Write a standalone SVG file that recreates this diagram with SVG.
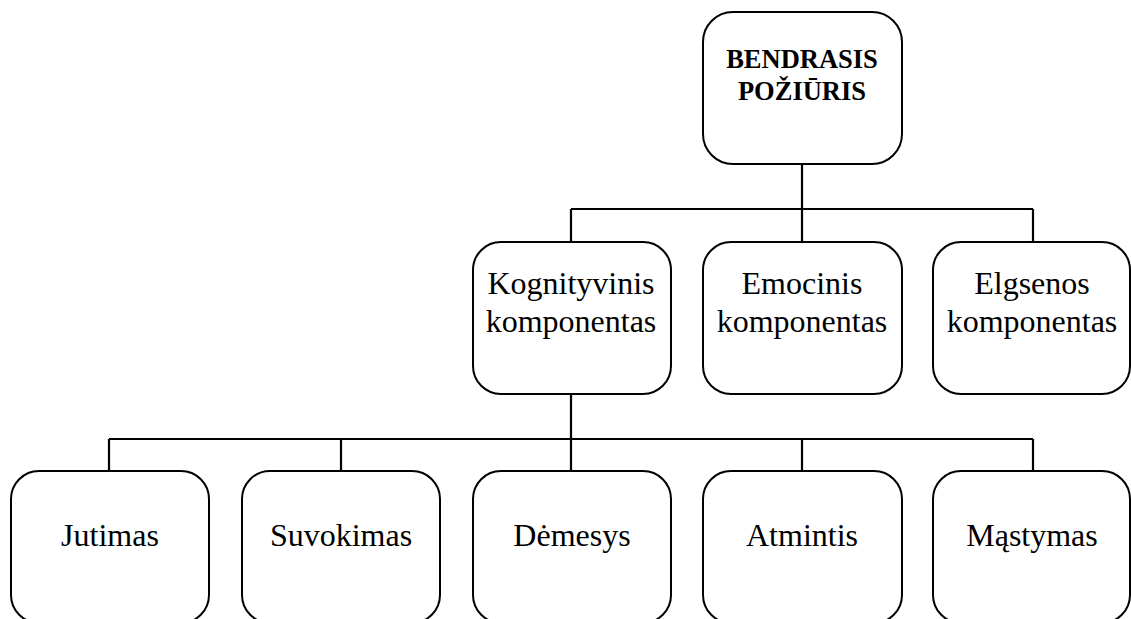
<svg xmlns="http://www.w3.org/2000/svg" width="1131" height="619" viewBox="0 0 1131 619">
  <style>
    .box { fill: #ffffff; stroke: #000000; stroke-width: 2; }
    .link { fill: none; stroke: #000000; stroke-width: 2.2; }
    text { font-family: 'Liberation Serif', 'Times New Roman', 'DejaVu Serif', serif; fill: #000000; text-anchor: middle; }
    .lbl { font-size: 32px; font-weight: normal; }
    .head { font-size: 26.5px; font-weight: bold; }
  </style>
  <rect width="1131" height="619" fill="#ffffff"/>

  <!-- connectors -->
  <g id="connectors">
    <path class="link" d="M802 164 V209 M571 209 H1033 M571 209 V242 M802 209 V242 M1033 209 V242"/>
    <path class="link" d="M571 394 V471 M109 439 H1033 M109 439 V471 M341 439 V471 M802 439 V471 M1033 439 V471"/>
  </g>

  <!-- root -->
  <g id="bendrasis">
    <rect class="box" x="703" y="12" width="199" height="152" rx="30" ry="30"/>
    <text class="head" x="802" y="68">BENDRASIS</text>
    <text class="head" x="802" y="100">POŽIŪRIS</text>
  </g>

  <!-- components -->
  <g id="kognityvinis">
    <rect class="box" x="473" y="242" width="198" height="152" rx="28" ry="28"/>
    <text class="lbl" x="571" y="294">Kognityvinis</text>
    <text class="lbl" x="571" y="332">komponentas</text>
  </g>
  <g id="emocinis">
    <rect class="box" x="703" y="242" width="199" height="152" rx="28" ry="28"/>
    <text class="lbl" x="802" y="294">Emocinis</text>
    <text class="lbl" x="802" y="332">komponentas</text>
  </g>
  <g id="elgsenos">
    <rect class="box" x="933" y="242" width="197" height="152" rx="28" ry="28"/>
    <text class="lbl" x="1032" y="294">Elgsenos</text>
    <text class="lbl" x="1032" y="332">komponentas</text>
  </g>

  <!-- cognitive processes -->
  <g id="jutimas">
    <rect class="box" x="11" y="471" width="198" height="152" rx="28" ry="28"/>
    <text class="lbl" x="110" y="546">Jutimas</text>
  </g>
  <g id="suvokimas">
    <rect class="box" x="242" y="471" width="198" height="152" rx="28" ry="28"/>
    <text class="lbl" x="341" y="546">Suvokimas</text>
  </g>
  <g id="demesys">
    <rect class="box" x="473" y="471" width="198" height="152" rx="28" ry="28"/>
    <text class="lbl" x="572" y="546">Dėmesys</text>
  </g>
  <g id="atmintis">
    <rect class="box" x="703" y="471" width="199" height="152" rx="28" ry="28"/>
    <text class="lbl" x="802" y="546">Atmintis</text>
  </g>
  <g id="mastymas">
    <rect class="box" x="933" y="471" width="197" height="152" rx="28" ry="28"/>
    <text class="lbl" x="1032" y="546">Mąstymas</text>
  </g>
</svg>
